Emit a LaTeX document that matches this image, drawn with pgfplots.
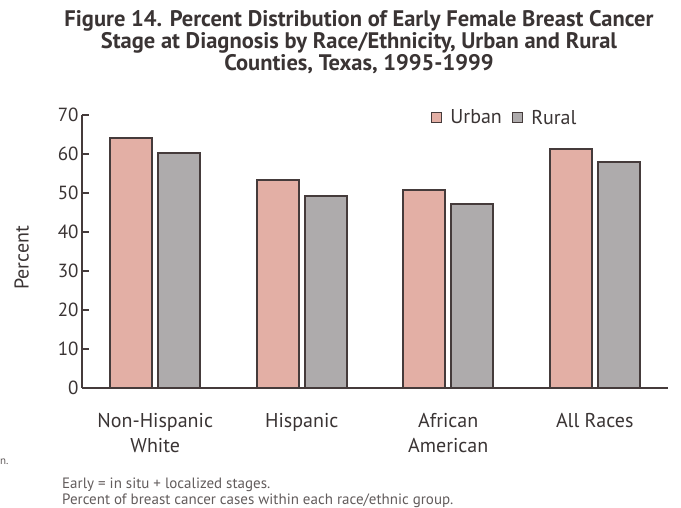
\documentclass[border=0pt]{standalone}
\usepackage{pgfplots}
\pgfplotsset{compat=1.18}
\usepackage{fontspec}
\setmainfont{PT Sans}
\definecolor{urb}{HTML}{E3AFA5}
\definecolor{rur}{HTML}{AEABAC}
\definecolor{edge}{HTML}{453B3B}
\definecolor{txt}{HTML}{3A3434}
\definecolor{foot}{HTML}{625C5C}
\begin{document}
\begin{tikzpicture}
\begin{axis}[
  at={(82pt,120pt)}, anchor=origin,
  scale only axis, width=586pt, height=273pt,
  xmin=0, xmax=4, ymin=0, ymax=70,
  axis x line*=bottom, axis y line*=left,
  axis line style={edge, line width=2pt, -},
  ybar=6pt, bar width=42pt,
  xtick={0.5,1.5,2.5,3.5},
  xticklabels={{Non-Hispanic\\White},{Hispanic},{African\\American},{All Races}},
  xticklabel style={align=center, font=\fontsize{20}{25}\selectfont, text=txt, yshift=-22pt, anchor=north},
  major x tick style={draw=none},
  extra x ticks={1,2,3,4}, extra x tick labels={},
  extra x tick style={major tick length=7pt, tick style={draw=edge, line width=2pt}, tick align=inside},
  ytick={0,10,...,70},
  yticklabel style={font=\fontsize{19}{20}\selectfont, text=txt},
  y tick style={draw=edge, line width=2pt},
  tick align=inside, major tick length=7pt,
  ylabel={Percent}, ylabel style={font=\fontsize{20}{22}\selectfont, text=txt, at={(axis description cs:-0.103,0.476)}, anchor=center},
  /pgf/number format/assume math mode=true,
  legend columns=2,
  legend style={at={(0.59,0.99)}, anchor=west, draw=none, fill=none,
    font=\fontsize{20}{22}\selectfont, text=txt, nodes={inner xsep=2pt},
    /tikz/every odd column/.append style={column sep=6pt},
    /tikz/every even column/.append style={column sep=8pt}},
  legend image code/.code={\draw[#1, line width=1.5pt] (0pt,-5pt) rectangle (10pt,5pt);},
  clip=false,
]
\addplot[fill=urb, draw=edge, line width=2pt] coordinates {(0.5,64.0) (1.5,53.3) (2.5,50.8) (3.5,61.2)};
\addplot[fill=rur, draw=edge, line width=2pt] coordinates {(0.5,60.3) (1.5,49.3) (2.5,47.2) (3.5,58.0)};
\legend{Urban, Rural}
\end{axis}
\node[font=\bfseries\fontsize{22.5}{22}\selectfont, text=txt, align=center, anchor=center] at (359pt,466pt)
{Figure 14. Percent Distribution of Early Female Breast Cancer\\Stage at Diagnosis by Race/Ethnicity, Urban and Rural\\Counties, Texas, 1995-1999};
\node[anchor=base west, font=\fontsize{15}{15}\selectfont, text=foot, inner sep=0pt] at (62pt,19pt) {Early = in situ + localized stages.};
\node[anchor=base west, font=\fontsize{15}{15}\selectfont, text=foot, inner sep=0pt] at (62pt,3.5pt) {Percent of breast cancer cases within each race/ethnic group.};
\node[anchor=west, font=\fontsize{11}{12}\selectfont, text=foot, inner sep=0pt] at (0pt,46pt) {n.};
\pgfresetboundingbox
\path (0pt,0pt) rectangle (681pt,508pt);
\end{tikzpicture}
\end{document}
